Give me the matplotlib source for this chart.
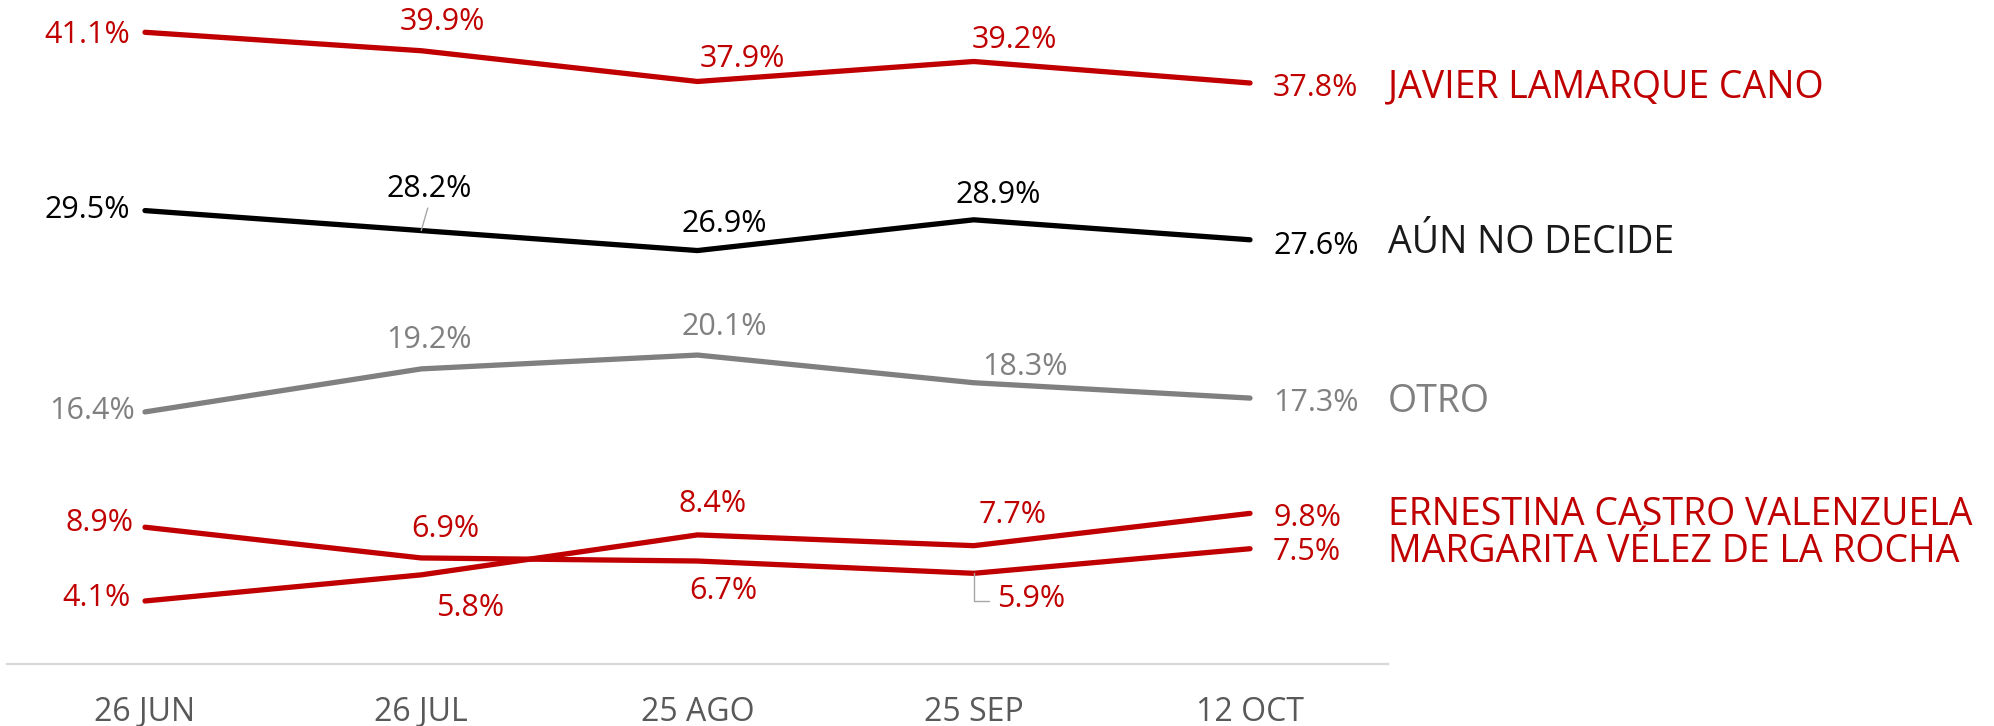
import matplotlib
matplotlib.use("Agg")
import matplotlib.pyplot as plt

# ---------------- data ----------------
fechas = ["26 JUN", "26 JUL", "25 AGO", "25 SEP", "12 OCT"]
nombres = ["JAVIER LAMARQUE CANO", "AÚN NO DECIDE", "OTRO",
           "ERNESTINA CASTRO VALENZUELA", "MARGARITA VÉLEZ DE LA ROCHA"]
javier = [41.1, 39.9, 37.9, 39.2, 37.8]
aun_no_decide = [29.5, 28.2, 26.9, 28.9, 27.6]
otro = [16.4, 19.2, 20.1, 18.3, 17.3]
ernestina = [4.1, 5.8, 8.4, 7.7, 9.8]
margarita = [8.9, 6.9, 6.7, 5.9, 7.5]
series = [javier, aun_no_decide, otro, ernestina, margarita]

# ---------------- styles / label placement (pixels) ----------------
RED = "#C00000"
GRAY = "#808080"
colors = [RED, "#000000", GRAY, RED, RED]
name_colors = [RED, "#1a1a1a", GRAY, RED, RED]
# (dx, dy-center, ha) for each value label
offsets = [
    [(-15, 0, "right"), (-22, 31.7, "left"), (2, 25.5, "left"), (-2, 24.5, "left"), (23, -2, "left")],
    [(-15, 3.6, "right"), (-35, 44.6, "left"), (-16, 29.6, "left"), (-18, 27.8, "left"), (23, -3, "left")],
    [(-10, 4, "right"), (-35, 32, "left"), (-16, 31, "left"), (8, 18.7, "left"), (23, -2, "left")],
    [(-14, 6, "right"), (15, -30, "left"), (-19, 34, "left"), (5, 34, "left"), (23, -2, "left")],
    [(-12, 7, "right"), (-10, 32, "left"), (-8, -27, "left"), (23, -23, "left"), (23, 0, "left")],
]
name_dy = [-1, 0, 0, 2, 0]
leaders = {(1, 1): "straight", (4, 3): "elbow"}

FONT = ["Open Sans", "DejaVu Sans"]
plt.rcParams["font.family"] = FONT

W, H, DPI = 1994, 726, 100
fig = plt.figure(figsize=(W / DPI, H / DPI), dpi=DPI)
fig.patch.set_facecolor("white")

# axes: x index 0 -> 145px, spacing 276.25px ; y=0 at 664px, 15.37 px per unit
px_per_x = 276.25
px_per_y = 15.37
x0_px = 145
y0_px = 664
ax = fig.add_axes([0, (H - y0_px) / H, 1, y0_px / H])
ax.set_xlim(-x0_px / px_per_x, (W - x0_px) / px_per_x)
ax.set_ylim(0, y0_px / px_per_y)

xs = list(range(len(fechas)))
for s, vals in enumerate(series):
    ax.plot(xs, vals, color=colors[s], lw=3.8, solid_capstyle="round",
            solid_joinstyle="round", zorder=3)

VAL_FS = 22
CAP_HALF = 11
for s, vals in enumerate(series):
    for i, v in enumerate(vals):
        dx, dy, ha = offsets[s][i]
        kw = {}
        kind = leaders.get((s, i))
        if kind == "straight":
            kw["arrowprops"] = dict(arrowstyle="-", color="#a6a6a6", lw=1.0,
                                    relpos=(0.5, 0.0), shrinkA=1, shrinkB=0)
        elif kind == "elbow":
            kw["arrowprops"] = dict(arrowstyle="-", color="#a6a6a6", lw=1.0,
                                    relpos=(0.0, 0.45), shrinkA=3.5, shrinkB=0,
                                    connectionstyle="angle,angleA=0,angleB=90,rad=0")
        ax.annotate(f"{v:.1f}%", xy=(i, v), xytext=(dx, dy - CAP_HALF),
                    textcoords="offset pixels", ha=ha, va="baseline",
                    fontsize=VAL_FS, color=colors[s], zorder=4, **kw)

NAME_FS = 27
for s, vals in enumerate(series):
    ax.annotate(nombres[s], xy=(len(fechas) - 1, vals[-1]),
                xytext=(138, name_dy[s] - 13.5), textcoords="offset pixels",
                ha="left", va="baseline", fontsize=NAME_FS, color=name_colors[s])

# axis
for sp in ["top", "right", "left"]:
    ax.spines[sp].set_visible(False)
ax.spines["bottom"].set_bounds(-0.5, 4.5)
ax.spines["bottom"].set_color("#d9d9d9")
ax.spines["bottom"].set_linewidth(1.6)
ax.set_yticks([])
ax.set_xticks(xs)
ax.set_xticklabels(fechas, fontsize=23, color="#595959")
ax.tick_params(axis="x", length=0, pad=23)
ax.set_facecolor("none")

fig.savefig("out.png", dpi=DPI, facecolor="white")
